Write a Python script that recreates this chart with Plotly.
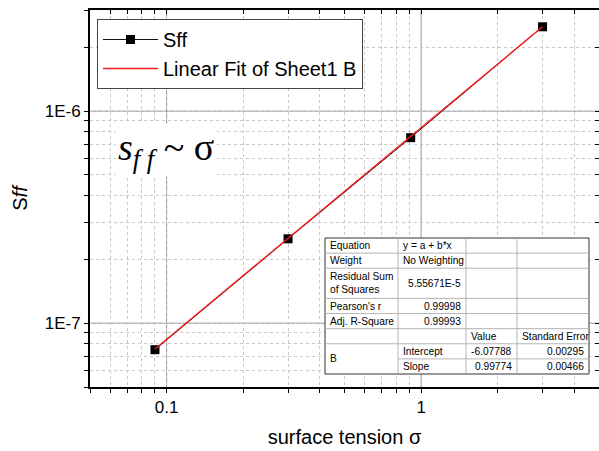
import numpy as np
import plotly.graph_objects as go

# ---------------- data ----------------
sigma = [0.09, 0.3, 0.91, 3.0]
sff = [7.5e-8, 2.5e-7, 7.5e-7, 2.5e-6]

fit_intercept = -6.07788
fit_slope = 0.99774
fit_intercept_err = 0.00295
fit_slope_err = 0.00466

x_major = [0.1, 1]
x_major_labels = ["0.1", "1"]
y_major = [1e-7, 1e-6]
y_major_labels = ["1E-7", "1E-6"]

x_range = [0.05, 5]
y_range = [5e-8, 3e-6]

stat_labels = ["Equation", "Weight", "Residual Sum<br>of Squares", "Pearson's r", "Adj. R-Square"]
stat_values = ["y = a + b*x", "No Weighting", "5.55671E-5", "0.99998", "0.99993"]
param_header = ["Value", "Standard Error"]
param_group = "B"
param_names = ["Intercept", "Slope"]
param_values = [fit_intercept, fit_slope]
param_errors = [fit_intercept_err, fit_slope_err]

# ---------------- layout geometry ----------------
W, H = 599, 451
ML, MR, MT, MB = 90, 0, 10, 64
PW = W - ML - MR
PH = H - MT - MB

FONT = "Arial, Liberation Sans, sans-serif"


def px(xp):
    return (xp - ML) / PW


def py(yp):
    return (H - MB - yp) / PH


def log_ticks(lo, hi):
    vals = []
    e = int(np.floor(np.log10(lo)))
    while 10 ** e <= hi * 1.0001:
        for m in range(1, 10):
            v = m * 10 ** e
            if lo * 0.9999 <= v <= hi * 1.0001:
                vals.append(float(f"{v:.6g}"))
        e += 1
    return vals


xt = log_ticks(*x_range)
yt = log_ticks(*y_range)
xt_text = [x_major_labels[x_major.index(v)] if v in x_major else "" for v in xt]
yt_text = [y_major_labels[y_major.index(v)] if v in y_major else "" for v in yt]

fit_x = [min(sigma), max(sigma)]
fit_y = [10 ** (fit_intercept + fit_slope * np.log10(v)) for v in fit_x]

fig = go.Figure()
fig.add_trace(go.Scatter(
    x=sigma, y=sff, mode="lines+markers", name="Sff",
    line=dict(color="#111111", width=1),
    marker=dict(symbol="square", size=9, color="black", line=dict(width=0)),
))
fig.add_trace(go.Scatter(
    x=fit_x, y=fit_y, mode="lines", name="Linear Fit of Sheet1 B",
    line=dict(color="#ff1a1a", width=1.3),
))
# invisible trace to host the mirrored top/right axes
fig.add_trace(go.Scatter(
    x=sigma, y=sff, xaxis="x2", yaxis="y2", mode="markers",
    marker=dict(opacity=0), showlegend=False, hoverinfo="skip",
))

grid_minor = "#c8c8c8"
grid_major = "#909090"

common_x = dict(type="log", range=[np.log10(x_range[0]), np.log10(x_range[1])],
                tickmode="array", tickvals=xt, zeroline=False)
common_y = dict(type="log", range=[np.log10(y_range[0]), np.log10(y_range[1])],
                tickmode="array", tickvals=yt, zeroline=False)

fig.update_layout(
    width=W, height=H,
    margin=dict(l=ML, r=MR, t=MT, b=MB, pad=0),
    paper_bgcolor="white", plot_bgcolor="white",
    font=dict(family=FONT, color="black"),
    showlegend=True,
    xaxis=dict(**common_x, ticktext=xt_text, ticks="outside", ticklen=4, tickwidth=1,
               tickcolor="black", showline=True, linewidth=2, linecolor="black",
               showgrid=True, gridcolor=grid_minor, griddash="dot", gridwidth=1,
               tickfont=dict(size=17),
               title=dict(text="surface tension σ", font=dict(size=20), standoff=14)),
    xaxis2=dict(**common_x, overlaying="x", side="top", anchor="y",
                showticklabels=False, ticks="inside", ticklen=4, tickwidth=1,
                tickcolor="black", showline=True, linewidth=2, linecolor="black",
                showgrid=False),
    yaxis=dict(**common_y, ticktext=yt_text, ticks="outside", ticklen=4, tickwidth=1,
               tickcolor="black", showline=True, linewidth=2, linecolor="black",
               showgrid=True, gridcolor=grid_minor, griddash="dot", gridwidth=1,
               tickfont=dict(size=17),
               title=dict(text="S<i>ff</i>", font=dict(size=20), standoff=12)),
    yaxis2=dict(**common_y, overlaying="y", side="right", anchor="x",
                showticklabels=False, ticks="inside", ticklen=4, tickwidth=1,
                tickcolor="black", showline=False, showgrid=False),
    legend=dict(x=px(97), y=py(19), xanchor="left", yanchor="top",
                bgcolor="white", bordercolor="#444444", borderwidth=1,
                font=dict(size=20), itemwidth=55, tracegroupgap=0),
)

shapes = []
# major grid lines (solid)
for v in x_major:
    shapes.append(dict(type="line", xref="x", yref="paper", x0=v, x1=v, y0=0, y1=1,
                       line=dict(color=grid_major, width=1), layer="below"))
for v in y_major:
    shapes.append(dict(type="line", xref="paper", yref="y", x0=0, x1=1, y0=v, y1=v,
                       line=dict(color=grid_major, width=1), layer="below"))

# ---------------- fit table ----------------
tx = [325, 398, 466, 517, 589]          # column boundaries (px)
ty0, ty1 = 238, 374
units = [1, 1, 2, 1, 1, 1, 1, 1]
rh = (ty1 - ty0) / sum(units)
rows = [ty0]
for u in units:
    rows.append(rows[-1] + u * rh)

line_in = dict(color="#b4b4b4", width=1)
shapes.append(dict(type="rect", xref="paper", yref="paper",
                   x0=px(tx[0]), x1=px(tx[-1]), y0=py(ty0), y1=py(ty1),
                   fillcolor="white", line=dict(color="#333333", width=1), layer="above"))
for i in range(1, len(rows) - 1):
    x_start = tx[1] if i == 7 else tx[0]
    shapes.append(dict(type="line", xref="paper", yref="paper",
                       x0=px(x_start), x1=px(tx[-1]), y0=py(rows[i]), y1=py(rows[i]),
                       line=line_in, layer="above"))
for c in tx[1:-1]:
    shapes.append(dict(type="line", xref="paper", yref="paper",
                       x0=px(c), x1=px(c), y0=py(ty0), y1=py(ty1),
                       line=line_in, layer="above"))
fig.update_layout(shapes=shapes)

tfont = dict(family=FONT, size=10.2, color="black")
annos = []


def cell_text(text, col, r0, r1, align):
    yc = (rows[r0] + rows[r1]) / 2
    if align == "left":
        x, xa = tx[col] + 2.5, "left"
    else:
        x, xa = tx[col + 1] - 3, "right"
    annos.append(dict(text=text, xref="paper", yref="paper", x=px(x), y=py(yc),
                      xanchor=xa, yanchor="middle", showarrow=False, font=tfont,
                      align="left"))


for i, (lab, val) in enumerate(zip(stat_labels, stat_values)):
    cell_text(lab, 0, i, i + 1, "left")
    cell_text(val, 1, i, i + 1, "left" if i < 2 else "right")
cell_text(param_header[0], 2, 5, 6, "left")
cell_text(param_header[1], 3, 5, 6, "left")
cell_text(param_group, 0, 6, 8, "left")
for j, (n, v, e) in enumerate(zip(param_names, param_values, param_errors)):
    cell_text(n, 1, 6 + j, 7 + j, "left")
    cell_text(f"{v:.5f}", 2, 6 + j, 7 + j, "right")
    cell_text(f"{e:.5f}", 3, 6 + j, 7 + j, "right")

# power-law annotation
annos.append(dict(text="<i>s</i><sub><i>f f</i></sub> ~ σ", xref="paper", yref="paper",
                  x=px(166), y=py(150), xanchor="center", yanchor="middle",
                  showarrow=False, bgcolor="white", borderpad=2,
                  font=dict(family="Liberation Serif, DejaVu Serif, serif", size=38,
                            color="black")))
fig.update_layout(annotations=annos)

fig.write_html("out.html")
